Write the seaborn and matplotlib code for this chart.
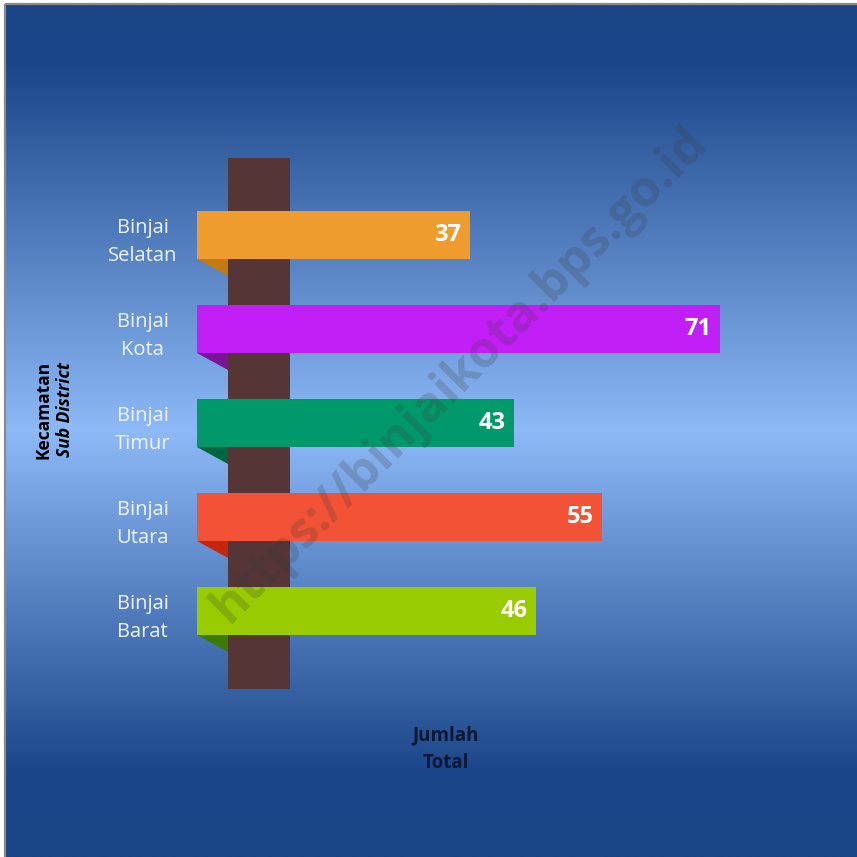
import numpy as np
import pandas as pd
import seaborn as sns
import matplotlib.pyplot as plt
from matplotlib.colors import LinearSegmentedColormap
from matplotlib.patches import Polygon, Rectangle

# Number per sub-district
districts = ["Binjai\nSelatan", "Binjai\nKota", "Binjai\nTimur", "Binjai\nUtara", "Binjai\nBarat"]
totals = [37, 71, 43, 55, 46]
bar_colors = ["#EE9C2E", "#C21EF6", "#02996A", "#F25235", "#99CC00"]
fold_colors = ["#C47A12", "#7A1499", "#00663F", "#C4260F", "#3C7A04"]

df = pd.DataFrame({"district": districts, "total": totals})

W = H = 857
fig = plt.figure(figsize=(W / 100, H / 100), dpi=100)
fig.patch.set_facecolor("white")

# Background: vertical blue gradient, frame and the post
bg = fig.add_axes([0, 0, 1, 1])
bg.set_xlim(0, W)
bg.set_ylim(H, 0)
bg.axis("off")
grad = LinearSegmentedColormap.from_list(
    "bluegrad",
    [(0.0, "#1A4587"), (0.07, "#1B4689"), (0.5, "#8DB9F7"), (0.9, "#1B4689"), (1.0, "#1A4587")],
)
bg.imshow(np.linspace(0, 1, 512)[:, None], extent=(6, W, H, 5), aspect="auto",
          cmap=grad, interpolation="bilinear", zorder=0)
bg.plot([5, 5], [4, H], color="#8A8A8A", lw=1.6, solid_capstyle="butt", zorder=1)
bg.plot([5, W], [4, 4], color="#8A8A8A", lw=1.6, solid_capstyle="butt", zorder=1)
bg.add_patch(Rectangle((228, 158), 62, 531, facecolor="#553536", edgecolor="none", zorder=2))

# Bars
ax_left, ax_right = 197, 720
ax_top, ax_bottom = 188, 658
ax = fig.add_axes([ax_left / W, 1 - ax_bottom / H, (ax_right - ax_left) / W, (ax_bottom - ax_top) / H])
ax.set_facecolor("none")
sns.barplot(data=df, x="total", y="district", hue="district", palette=bar_colors,
            orient="h", width=0.52, saturation=1, legend=False, ax=ax,
            edgecolor="none", zorder=3)
ax.set_xlim(0, 71)
ax.set_ylim(4.5, -0.5)

# Folded ribbon tails reaching back to the post
x_post = (228 - ax_left) / (ax_right - ax_left) * 71
for i, c in enumerate(fold_colors):
    y0 = i + 0.26
    ax.add_patch(Polygon([(0, y0), (x_post, y0), (x_post, y0 + 0.18)], closed=True,
                         facecolor=c, edgecolor="none", zorder=2))

for i, v in enumerate(totals):
    ax.text(v - 1.1, i, str(v), ha="right", va="center", color="white",
            fontsize=17, fontweight="bold", family=["Liberation Sans Narrow", "Open Sans"], zorder=4)

for s in ax.spines.values():
    s.set_visible(False)
ax.set_xticks([])
ax.set_xlabel("")
ax.set_ylabel("")
ax.set_yticks(range(len(districts)))
ax.set_yticklabels(districts, ha="center", color="#EEF3FF", fontsize=14.5,
                   family="Open Sans", linespacing=1.55)
ax.tick_params(axis="y", length=0, pad=39)

# Axis titles
fig.text(43 / W, 1 - 410 / H, "Kecamatan", rotation=90, ha="center", va="center",
         fontsize=12.5, fontweight="bold", color="black", family="Open Sans")
fig.text(65 / W, 1 - 410 / H, "Sub District", rotation=90, ha="center", va="center",
         fontsize=12.5, fontweight="bold", fontstyle="italic", color="black", family="Open Sans")
fig.text(446 / W, 1 - 735 / H, "Jumlah", ha="center", va="center",
         fontsize=13.5, fontweight="bold", color="#0B1833", family="Open Sans")
fig.text(446 / W, 1 - 763 / H, "Total", ha="center", va="center",
         fontsize=13.5, fontweight="bold", color="#0B1833", family="Open Sans")

# Watermark
fig.text(460 / W, 1 - 375 / H, "https://binjaikota.bps.go.id", rotation=45,
         ha="center", va="center", fontsize=36, fontweight="bold",
         color="#3A3A3A", alpha=0.22, family="Open Sans", zorder=10)

fig.savefig("out.png", dpi=100, facecolor=fig.get_facecolor())
